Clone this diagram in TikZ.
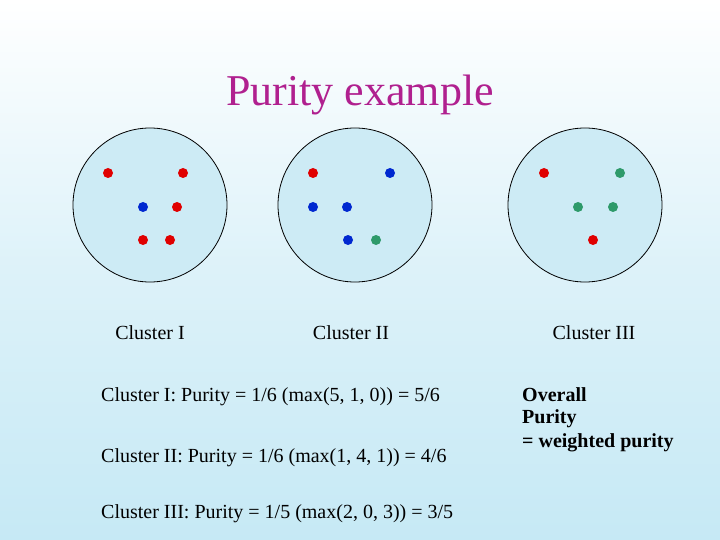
\documentclass[tikz,border=0pt]{standalone}
\usepackage{fontspec}
\setmainfont{Liberation Serif}
\begin{document}
\begin{tikzpicture}[x=1pt,y=-1pt,
  clus/.style={draw=black,fill=cfill,line width=0.8pt},
  dotr/.style={fill=cred,draw=none},
  dotb/.style={fill=cblue,draw=none},
  dotg/.style={fill=cgreen,draw=none},
  cl/.style={font=\fontsize{20}{24}\selectfont},
  lbl/.style={font=\fontsize{20}{24}\selectfont,anchor=west,inner sep=0pt},
  bl/.style={font=\fontsize{20}{24}\selectfont\bfseries,anchor=west,inner sep=0pt}]
\definecolor{cfill}{HTML}{CDEBF5}
\definecolor{cred}{HTML}{E00000}
\definecolor{cblue}{HTML}{0028D0}
\definecolor{cgreen}{HTML}{2E9A6A}
\definecolor{ctitle}{HTML}{B0208F}
\definecolor{cbot}{HTML}{C6E9F5}
\useasboundingbox (0,0) rectangle (720,540);
\shade[top color=white,bottom color=cbot,middle color=white!40!cbot] (0,0) rectangle (720,540);
\node (title) at (360,95) {\fontsize{44}{50}\selectfont\color{ctitle}Purity example};
\node[clus,circle,minimum size=154pt,inner sep=0pt] (c1) at (150,205) {};
\node[clus,circle,minimum size=154pt,inner sep=0pt] (c2) at (355,205) {};
\node[clus,circle,minimum size=154pt,inner sep=0pt] (c3) at (585,205) {};
\foreach \p in {(108,173),(183,173),(177,207),(143,240),(170,240),(313,173),(544,173),(593,240)}
  \fill[dotr] \p circle (5);
\foreach \p in {(143,207),(390,173),(313,207),(347,207),(348,240)}
  \fill[dotb] \p circle (5);
\foreach \p in {(376,240),(620,173),(578,207),(613,207)}
  \fill[dotg] \p circle (5);
\node[cl] (l1) at (150,333) {Cluster I};
\node[cl] (l2) at (351,333) {Cluster II};
\node[cl] (l3) at (594,333) {Cluster III};
\node[lbl] (t1) at (101,397) {Cluster I: Purity = 1/6 (max(5, 1, 0)) = 5/6};
\node[lbl] (t2) at (101,458) {Cluster II: Purity = 1/6 (max(1, 4, 1)) = 4/6};
\node[lbl] (t3) at (101,514) {Cluster III: Purity = 1/5 (max(2, 0, 3)) = 3/5};
\node[bl] (o1) at (522,395) {Overall};
\node[bl] (o2) at (522,419) {Purity};
\node[bl] (o3) at (522,443) {= weighted purity};
\end{tikzpicture}
\end{document}
